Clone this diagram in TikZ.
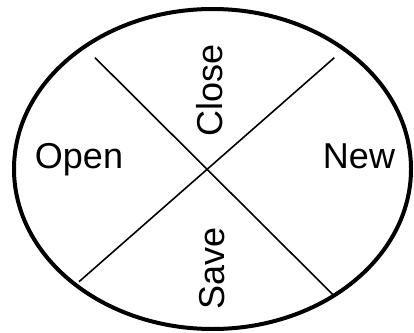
\documentclass[tikz,border=0pt]{standalone}
\usepackage{fontspec}
\setmainfont{Liberation Sans}
\begin{document}
\begin{tikzpicture}[x=1pt,y=-1pt,
  lbl/.style={inner sep=0pt,font=\fontsize{36}{40}\selectfont,anchor=base},
  divider/.style={line width=1.6pt},
  rim/.style={line width=4pt}]
\useasboundingbox (0,0) rectangle (414,332);
\draw[rim] (212.5,169) ellipse [x radius=198.5, y radius=160];
\coordinate (a1) at (95,57.7);
\coordinate (a2) at (333.3,295);
\coordinate (b1) at (334.3,57.7);
\coordinate (b2) at (79,281.7);
\draw[divider] (a1) -- (a2);
\draw[divider] (b1) -- (b2);
\node[lbl] (open) at (79,168) {Open};
\node[lbl] (new) at (359,168) {New};
\node[lbl,rotate=90] (close) at (222,90.8) {Close};
\node[lbl,rotate=90] (save) at (224,268) {Save};
\end{tikzpicture}
\end{document}
